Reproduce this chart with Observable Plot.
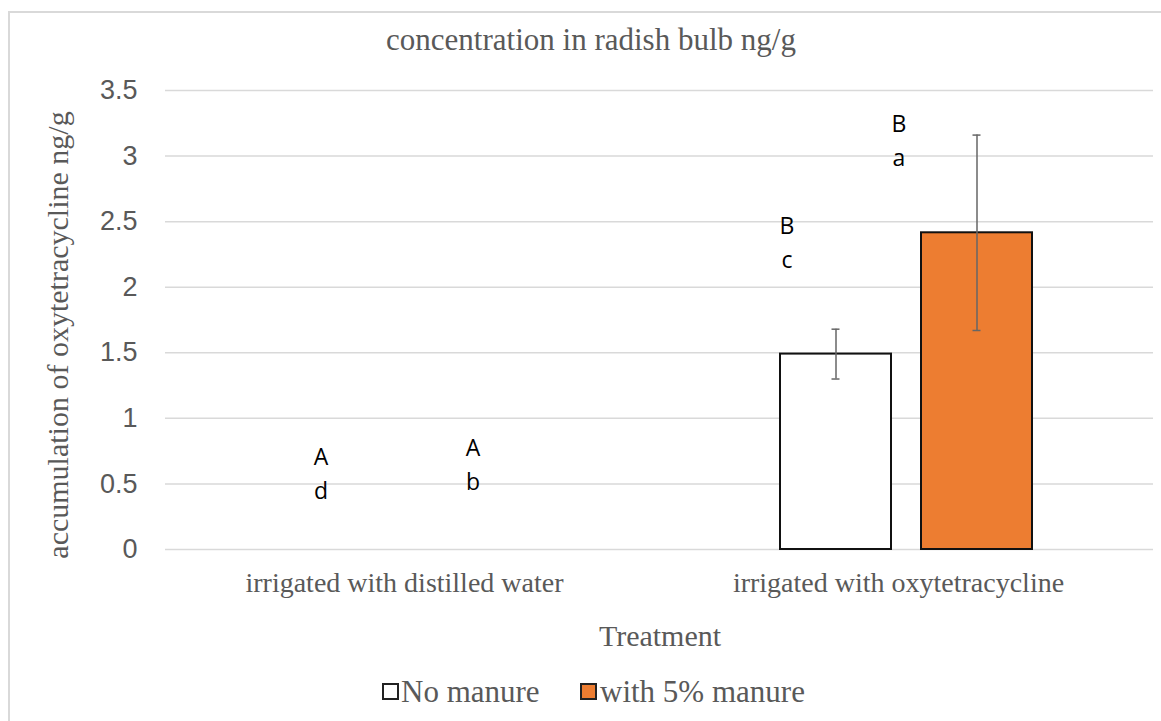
<!DOCTYPE html>
<html>
<head>
<meta charset="utf-8">
<script src="https://cdn.jsdelivr.net/npm/d3@7"></script>
<script src="https://cdn.jsdelivr.net/npm/@observablehq/plot@0.6"></script>
<style>
  html, body { margin: 0; padding: 0; background: #fff; }
  #wrap { position: relative; width: 1161px; height: 721px; overflow: hidden; background: #fff; }
  #frame { position: absolute; left: 8px; top: 11px; width: 1300px; height: 900px; border: 2px solid #d9d9d9; box-sizing: border-box; z-index: 5; pointer-events: none; }
  .serif { font-family: "Liberation Serif", "Times New Roman", serif; color: #595959; white-space: nowrap; }
  #title { position: absolute; left: 0; width: 1182px; top: 24px; text-align: center; font-size: 31px; line-height: 31px; }
  #ylab { position: absolute; left: 58px; top: 335px; font-size: 30px; line-height: 30px; transform: translate(-50%, -50%) rotate(-90deg); }
  #xlab { position: absolute; left: 0; width: 1320px; top: 621px; text-align: center; font-size: 30px; line-height: 30px; }
  #chart { position: absolute; left: 0; top: 62px; }
  .lgtext { position: absolute; top: 676px; font-size: 31px; line-height: 31px; }
  .sw { position: absolute; top: 683px; width: 13px; height: 13px; border: 2px solid #222; }
  #chart svg g[aria-label="y-axis tick label"] { font-family: "Liberation Sans", Arial, sans-serif; font-size: 27px; fill: #595959; }
  #chart svg g[aria-label="fx-axis tick label"] { font-family: "Liberation Serif", "Times New Roman", serif; font-size: 28px; fill: #595959; }
</style>
</head>
<body>
<div id="wrap">
  <div id="title" class="serif">concentration in radish bulb ng/g</div>
  <div id="ylab" class="serif">accumulation of oxytetracycline ng/g</div>
  <div id="chart"></div>
  <div id="xlab" class="serif">Treatment</div>
  <div id="sw0" class="sw" style="left:382px"></div>
  <div id="lg0" class="lgtext serif" style="left:401px"></div>
  <div id="sw1" class="sw" style="left:580px"></div>
  <div id="lg1" class="lgtext serif" style="left:600px"></div>
  <div id="frame"></div>
</div>
<script>
// ---- data ----
const treatments = ["irrigated with distilled water", "irrigated with oxytetracycline"];
const manureLevels = ["No manure", "with 5% manure"];
const noManureMean = [0, 1.49];
const noManureErr = [0, 0.19];
const withManureMean = [0, 2.415];
const withManureErr = [0, 0.745];
const letterUpper = ["A", "A", "B", "B"];   // order: water/no, water/with, oxy/no, oxy/with
const letterLower = ["d", "b", "c", "a"];
const letterHeight = [0.60, 0.665, 2.36, 3.135];
const yTicks = [0, 0.5, 1, 1.5, 2, 2.5, 3, 3.5];
const seriesColors = ["#ffffff", "#ED7D31"];

// ---- build table ----
const rows = [];
treatments.forEach((t, i) => {
  rows.push({treatment: t, manure: manureLevels[0], value: noManureMean[i], err: noManureErr[i]});
  rows.push({treatment: t, manure: manureLevels[1], value: withManureMean[i], err: withManureErr[i]});
});
const letters = rows.map((r, i) => ({treatment: r.treatment, manure: r.manure, y: letterHeight[i], text: letterUpper[i] + "\n" + letterLower[i]}));
const letterDx = [-21, -10, -49, -78];

const colorOf = m => seriesColors[manureLevels.indexOf(m)];
const bars = rows.filter(d => d.value > 0);

const chart = Plot.plot({
  width: 1161,
  height: 600,
  marginTop: 28,
  marginBottom: 113,
  marginLeft: 164,
  marginRight: 8,
  style: {background: "transparent", overflow: "visible"},
  fx: {domain: treatments, paddingInner: 0, paddingOuter: 0, label: null},
  x: {domain: manureLevels, paddingInner: 0.211, paddingOuter: 0.847, axis: null},
  y: {domain: [0, 3.5]},
  marks: [
    Plot.ruleY(yTicks, {stroke: "#d9d9d9", strokeWidth: 1.5}),
    Plot.axisY({ticks: yTicks, tickSize: 0, tickPadding: 28, tickFormat: d => String(d), label: null, fontSize: 27}),
    Plot.axisFx({anchor: "bottom", tickSize: 0, tickPadding: 23, label: null, fontSize: 28, dx: -8}),
    Plot.barY(bars, {fx: "treatment", x: "manure", y: "value", fill: d => colorOf(d.manure), stroke: "#111", strokeWidth: 2}),
    Plot.ruleX(bars, {fx: "treatment", x: "manure", y1: d => d.value - d.err, y2: d => d.value + d.err, stroke: "#666", strokeWidth: 1.5}),
    Plot.tickY(bars, {fx: "treatment", x: "manure", y: d => d.value + d.err, stroke: "#666", strokeWidth: 1.5, insetLeft: 51.5, insetRight: 51.5}),
    Plot.tickY(bars, {fx: "treatment", x: "manure", y: d => d.value - d.err, stroke: "#666", strokeWidth: 1.5, insetLeft: 51.5, insetRight: 51.5}),
    ...letters.map((d, i) => Plot.text([d], {fx: "treatment", x: "manure", y: "y", text: "text", dx: letterDx[i], fontSize: 23, lineHeight: 1.47, fill: "#000", fontFamily: "'Open Sans', 'Liberation Sans', sans-serif"}))
  ]
});
document.getElementById("chart").appendChild(chart);

// ---- legend ----
manureLevels.forEach((m, i) => {
  document.getElementById("sw" + i).style.background = seriesColors[i];
  document.getElementById("lg" + i).textContent = m;
});
</script>
</body>
</html>
